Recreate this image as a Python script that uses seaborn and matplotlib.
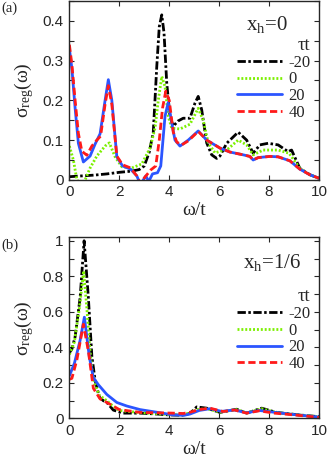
import numpy as np
import pandas as pd
import matplotlib
matplotlib.use("Agg")
import matplotlib.pyplot as plt
import seaborn as sns
from matplotlib.ticker import MultipleLocator, FuncFormatter

# ---------------- data ----------------
taus = ["-20", "0", "20", "40"]

# panel (a): x_h = 0
wa_m20 = [0, 0.5, 1, 1.5, 2, 2.5, 2.8, 3.0, 3.2, 3.36, 3.5, 3.6, 3.7, 3.79, 3.9, 4.03, 4.16, 4.35,
          4.56, 4.83, 5.03, 5.16, 5.3, 5.5, 5.7, 5.9, 6.03, 6.3, 6.76, 7.1, 7.36, 7.63, 7.96, 8.36,
          8.76, 8.9, 9.23, 9.63, 10]
sa_m20 = [0.008, 0.01, 0.012, 0.015, 0.019, 0.022, 0.026, 0.035, 0.07, 0.12, 0.285, 0.385, 0.415,
          0.37, 0.243, 0.159, 0.135, 0.148, 0.155, 0.155, 0.193, 0.21, 0.176, 0.093, 0.063, 0.054,
          0.06, 0.092, 0.12, 0.1, 0.067, 0.088, 0.092, 0.088, 0.071, 0.075, 0.029, 0.013, 0.004]

wa_0 = [0, 0.16, 0.3, 0.45, 0.63, 0.83, 1.1, 1.43, 1.6, 1.83, 2.1, 2.5, 2.9, 3.23, 3.43, 3.56, 3.7,
        3.83, 3.96, 4.1, 4.43, 4.83, 5.16, 5.36, 5.56, 5.83, 6.1, 6.3, 6.76, 7.1, 7.36, 7.76, 8.36,
        8.8, 9.23, 9.63, 10]
sa_0 = [0.085, 0.05, 0.0, -0.01, 0.0, 0.03, 0.06, 0.085, 0.093, 0.058, 0.033, 0.03, 0.04, 0.08,
        0.13, 0.2, 0.26, 0.235, 0.16, 0.13, 0.128, 0.14, 0.18, 0.15, 0.093, 0.068, 0.073, 0.075,
        0.1, 0.088, 0.063, 0.075, 0.075, 0.067, 0.029, 0.013, 0.004]

wa_20 = [0, 0.1, 0.23, 0.36, 0.56, 0.83, 1.03, 1.23, 1.43, 1.56, 1.7, 1.9, 2.13, 2.45, 2.7, 2.85,
         3.06, 3.18, 3.33, 3.53, 3.66, 3.83, 3.96, 4.1, 4.23, 4.43, 4.76, 5.16, 5.5, 5.9, 6.03,
         6.43, 6.96, 7.23, 7.36, 7.56, 8.03, 8.36, 8.83, 9.23, 9.63, 10]
sa_20 = [0.33, 0.28, 0.18, 0.092, 0.045, 0.06, 0.09, 0.116, 0.2, 0.252, 0.2, 0.058, 0.035, 0.027,
         0.01, -0.012, 0.01, -0.004, 0.015, 0.018, 0.035, 0.16, 0.195, 0.143, 0.1, 0.085, 0.1, 0.123,
         0.1, 0.085, 0.08, 0.07, 0.063, 0.059, 0.05, 0.056, 0.059, 0.058, 0.048, 0.027, 0.013, 0.004]

wa_40 = [0, 0.1, 0.23, 0.36, 0.5, 0.7, 0.9, 1.1, 1.25, 1.43, 1.56, 1.7, 1.9, 2.13, 2.45, 2.7, 2.85,
         3.0, 3.26, 3.46, 3.6, 3.73, 3.86, 4.0, 4.16, 4.3, 4.5, 4.76, 5.16, 5.5, 5.9, 6.03, 6.43,
         6.96, 7.23, 7.36, 7.56, 8.03, 8.36, 8.83, 9.23, 9.63, 10]
sa_40 = [0.34, 0.29, 0.2, 0.117, 0.072, 0.062, 0.085, 0.1, 0.11, 0.19, 0.237, 0.19, 0.06, 0.038,
         0.03, 0.01, -0.01, 0.005, 0.025, 0.035, 0.1, 0.18, 0.223, 0.2, 0.12, 0.095, 0.088, 0.098,
         0.122, 0.1, 0.085, 0.08, 0.07, 0.063, 0.059, 0.05, 0.056, 0.059, 0.058, 0.048, 0.027,
         0.013, 0.004]

# panel (b): x_h = 1/6
wb_m20 = [0, 0.1, 0.23, 0.43, 0.59, 0.76, 0.9, 1.03, 1.2, 1.36, 1.5, 1.76, 2.16, 2.83, 3.5, 4.0,
          4.5, 4.83, 5.1, 5.5, 6.03, 6.7, 7.1, 7.7, 8.3, 9.2, 10]
sb_m20 = [0.37, 0.39, 0.46, 0.68, 1.0, 0.68, 0.35, 0.215, 0.12, 0.1, 0.09, 0.047, 0.03, 0.03, 0.025,
          0.02, 0.018, 0.028, 0.065, 0.058, 0.034, 0.052, 0.03, 0.058, 0.034, 0.02, 0.01]

wb_0 = [0, 0.2, 0.4, 0.57, 0.7, 0.8, 0.9, 1.0, 1.2, 1.5, 1.7, 2.0, 2.83, 3.5, 4.0, 4.5, 4.83, 5.1,
        5.5, 6.03, 6.7, 7.1, 7.7, 8.3, 9.2, 10]
sb_0 = [0.36, 0.43, 0.62, 0.83, 0.62, 0.42, 0.28, 0.2, 0.13, 0.1, 0.075, 0.045, 0.033, 0.027, 0.022,
        0.02, 0.03, 0.05, 0.055, 0.036, 0.05, 0.032, 0.055, 0.034, 0.02, 0.01]

wb_20 = [0, 0.2, 0.43, 0.6, 0.8, 0.96, 1.16, 1.5, 1.9, 2.3, 2.83, 3.5, 4.16, 4.6, 4.83, 5.2, 5.63,
         6.1, 6.6, 7.1, 7.6, 8.2, 9.0, 10]
sb_20 = [0.24, 0.31, 0.44, 0.57, 0.345, 0.23, 0.19, 0.135, 0.09, 0.07, 0.05, 0.035, 0.02, 0.018,
         0.025, 0.045, 0.055, 0.04, 0.048, 0.032, 0.045, 0.035, 0.022, 0.008]

wb_40 = [0, 0.1, 0.3, 0.56, 0.76, 0.96, 1.23, 1.63, 2.0, 2.83, 3.5, 4.16, 4.56, 4.83, 5.2, 5.63,
         6.16, 6.6, 7.1, 7.6, 8.2, 9.0, 10]
sb_40 = [0.22, 0.226, 0.33, 0.53, 0.38, 0.17, 0.11, 0.08, 0.05, 0.034, 0.032, 0.03, 0.028, 0.035,
         0.05, 0.058, 0.039, 0.048, 0.03, 0.043, 0.03, 0.02, 0.006]

panel_a = [(wa_m20, sa_m20), (wa_0, sa_0), (wa_20, sa_20), (wa_40, sa_40)]
panel_b = [(wb_m20, sb_m20), (wb_0, sb_0), (wb_20, sb_20), (wb_40, sb_40)]

# ---------------- style ----------------
sns.set_theme(style="ticks")
plt.rcParams["font.family"] = ["Liberation Sans", "DejaVu Sans"]
plt.rcParams["mathtext.fontset"] = "custom"
plt.rcParams["mathtext.rm"] = "Liberation Serif"
plt.rcParams["mathtext.it"] = "Liberation Serif:italic"
plt.rcParams["axes.linewidth"] = 1.0

colors = ["black", "#7cf000", "#2b55ff", "#ff1a1a"]
dashes = [(3.0, 0.9, 0.9, 0.9), (0.7, 0.7), (), (2.6, 1.3)]
lws = [2.0, 2.0, 2.0, 2.0]

fig = plt.figure(figsize=(3.32, 4.66), dpi=100)
ax_a = fig.add_axes([0.209, 0.614, 0.752, 0.384])
ax_b = fig.add_axes([0.209, 0.102, 0.752, 0.389])

serif = ["Liberation Serif", "DejaVu Serif"]


def draw(ax, data, ymax, ymajor, yminor, xh_label, panel, leg_top, xh_x, xh_y):
    for (w, s), tau, c, d, lw in zip(data, taus, colors, dashes, lws):
        df = pd.DataFrame({"w": w, "s": s})
        sns.lineplot(data=df, x="w", y="s", ax=ax, color=c, lw=lw, label=tau,
                     sort=False, estimator=None)
        ln = ax.get_lines()[-1]
        if d:
            ln.set_dashes(d)
    ax.set_xlim(0, 10)
    ax.set_ylim(0, ymax)
    ax.xaxis.set_major_locator(MultipleLocator(2))
    ax.yaxis.set_major_locator(MultipleLocator(ymajor))
    ax.yaxis.set_minor_locator(MultipleLocator(yminor))
    ax.yaxis.set_major_formatter(FuncFormatter(lambda v, p: "%g" % round(v, 3)))
    ax.tick_params(which="both", direction="in", top=True, right=True, length=3.5, width=0.8,
                   labelsize=11, pad=4)
    ax.set_xlabel("ω/t", fontsize=14, family=serif, labelpad=2)
    ax.set_ylabel(r"σ$_{\mathrm{reg}}$(ω)", fontsize=14, family=serif, labelpad=5)
    for sp in ax.spines.values():
        sp.set_visible(True)
        sp.set_linewidth(1.0)
    leg = ax.legend(title="τt", loc="upper left", bbox_to_anchor=(0.67, leg_top),
                    frameon=False, handlelength=2.75,
                    handletextpad=0.35, labelspacing=0.05, borderpad=0, borderaxespad=0,
                    alignment="right", prop={"family": serif, "size": 12},
                    title_fontproperties={"family": serif, "size": 13.5})
    ax.text(xh_x, xh_y, r"x$_{\mathrm{h}}$" + xh_label, transform=ax.transAxes,
            ha="center", va="center", fontsize=15, family=serif)
    fig.text(0.005, ax.get_position().y1 - 0.002, panel, ha="left", va="top",
             fontsize=10.5, family=serif)


draw(ax_a, panel_a, 0.45, 0.1, 0.05, "=0", "(a)", 0.80, 0.79, 0.87)
draw(ax_b, panel_b, 1.02, 0.2, 0.1, "=1/6", "(b)", 0.72, 0.81, 0.86)

fig.savefig("out.png", dpi=100)
